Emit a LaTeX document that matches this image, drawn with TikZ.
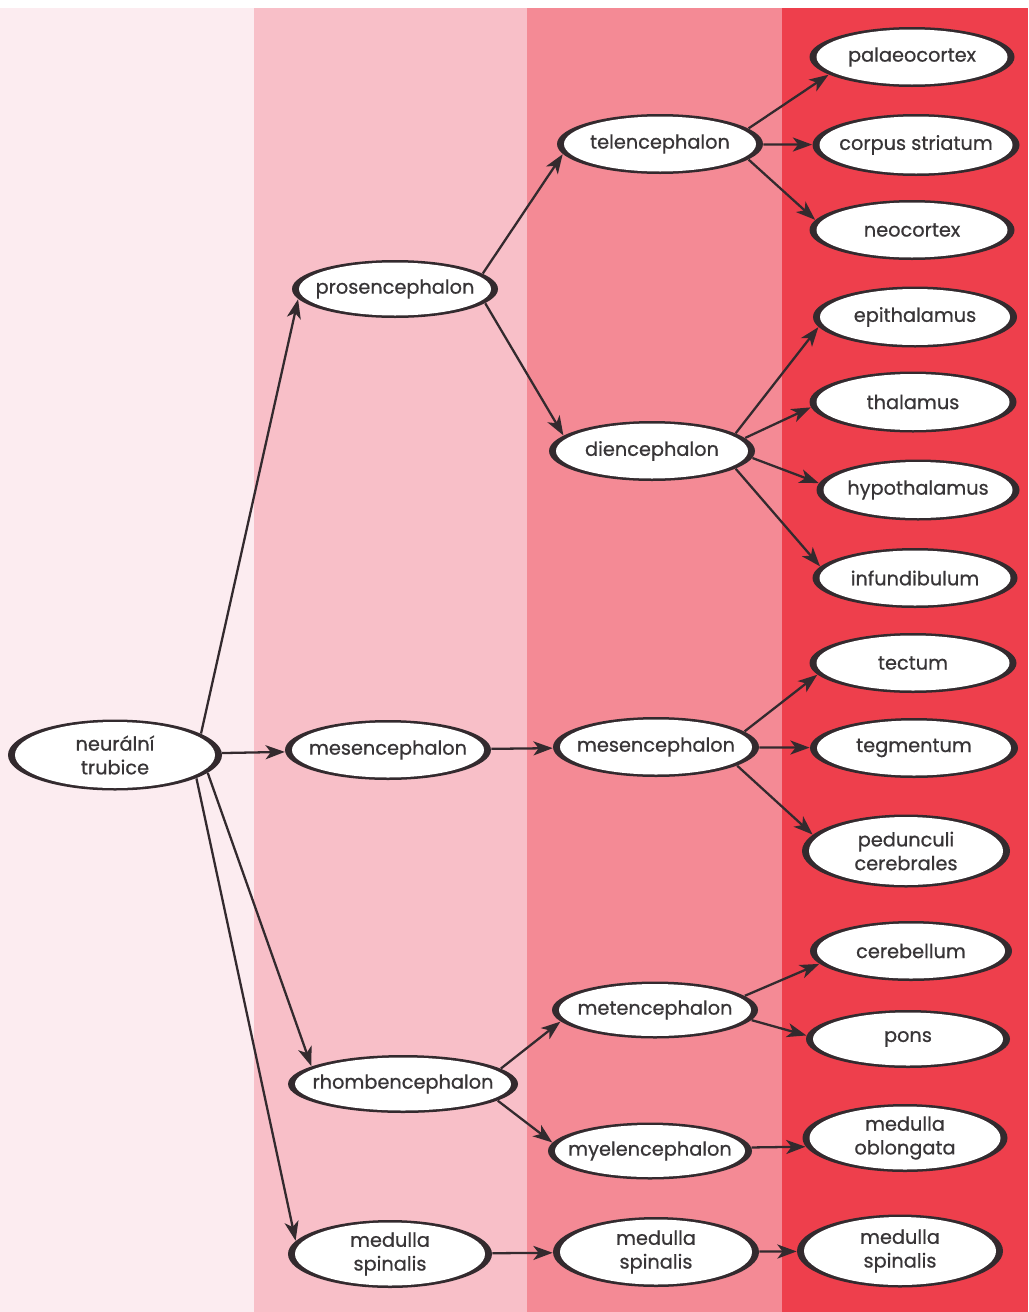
\documentclass[tikz,border=0pt]{standalone}
\usepackage{fontspec}
\setmainfont{Poppins}
\newfontfamily\labelfont[FakeBold=0.7]{Poppins}
\usetikzlibrary{shapes.geometric,arrows.meta}

\definecolor{paleA}{HTML}{FCECF0}
\definecolor{paleB}{HTML}{F8BFC8}
\definecolor{paleC}{HTML}{F48A95}
\definecolor{paleD}{HTML}{EE3F4C}
\definecolor{ink}{HTML}{332A2E}
\definecolor{label}{HTML}{383537}

\tikzset{
  rim/.style={ellipse,fill=ink,inner sep=0pt},
  organ/.style={ellipse,fill=white,inner xsep=-14pt,inner ysep=-4pt,align=center,
    text=label,font=\labelfont\fontsize{11}{13.5}\selectfont},
  link/.style={draw=ink,line width=1.3pt,-{Stealth[length=11pt,width=8pt,inset=3pt]}}
}

% \organ[width]{name}{x,y}{height}{text}, sizes of the dark rim in px
\newcommand\organ[5][206]{
  \node[rim,minimum width=#1*0.02cm,minimum height=#4*0.02cm] (#2) at (#3) {};
  \node[organ,minimum width=(#1-14)*0.02cm,minimum height=(#4-5)*0.02cm] (#2-in) at (#3) {#5};
}

\begin{document}
\begin{tikzpicture}[x=0.02cm,y=-0.02cm]
  \fill[white] (0,0) rectangle (1028,1312);
  \useasboundingbox (0,0) rectangle (1028,1312);

  % the four stages as coloured bands
  \foreach \a/\b/\c in {0/254/paleA,254/527/paleB,527/782/paleC,782/1028/paleD}
    \fill[\c] (\a,8) rectangle (\b,1312);

  % stage 1 and 2
  \organ[214]{tube}{115,755}{71}{neurální\\trubice}
  \organ{prosen}{395,289}{58}{prosencephalon}
  \organ{mesen}{388,750}{60}{mesencephalon}
  \organ[230]{rhomben}{403,1084}{58}{rhombencephalon}
  \organ[204]{spinalB}{390,1254}{68}{medulla\\spinalis}

  % stage 3
  \organ{telen}{660,144}{60}{telencephalon}
  \organ{dien}{652,451}{60}{diencephalon}
  \organ{mesenC}{656,747}{60}{mesencephalon}
  \organ{meten}{655,1010}{57}{metencephalon}
  \organ[204]{myelen}{650,1151}{57}{myelencephalon}
  \organ{spinalC}{656,1252}{70}{medulla\\spinalis}

  % stage 4
  \organ[205]{palaeo}{912,57}{60}{palaeocortex}
  \organ[207]{striatum}{916,145}{62}{corpus striatum}
  \organ[205]{neo}{912,230}{60}{neocortex}
  \organ[204]{epi}{915,317}{61}{epithalamus}
  \organ[207]{thal}{913,402}{61}{thalamus}
  \organ[203]{hypo}{918,490}{61}{hypothalamus}
  \organ[205]{infund}{915,578}{60}{infundibulum}
  \organ[207]{tectum}{913,663}{60}{tectum}
  \organ[208]{tegm}{914,748}{60}{tegmentum}
  \organ[208]{pedunc}{906,851}{73}{pedunculi\\cerebrales}
  \organ[202]{cereb}{911,951}{60}{cerebellum}
  \organ[204]{pons}{908,1039}{58}{pons}
  \organ[205]{oblong}{905,1138}{68}{medulla\\oblongata}
  \organ[206]{spinalD}{900,1251}{73}{medulla\\spinalis}

  % arrows
  \draw[link] (tube.14) -- (prosen.186);
  \draw[link] (tube) -- (mesen);
  \draw[link] (tube.-11) -- (rhomben.169);
  \draw[link] (tube.-16) -- (spinalB.172);

  \draw[link] (prosen.10) -- (telen.186);
  \draw[link] (prosen.-9) -- (dien.170);
  \draw[link] (mesen) -- (mesenC);
  \draw[link] (rhomben.9) -- (meten.187);
  \draw[link] (rhomben.-10) -- (myelen.175);
  \draw[link] (spinalB) -- (spinalC);

  \draw[link] (telen.10) -- (palaeo.192);
  \draw[link] (telen) -- (striatum);
  \draw[link] (telen.-10) -- (neo.174);
  \draw[link] (dien.12) -- (epi.186);
  \draw[link] (dien.8) -- (thal.183);
  \draw[link] (dien.-4) -- (hypo.176);
  \draw[link] (dien.-12) -- (infund.173);
  \draw[link] (mesenC.10) -- (tectum.187);
  \draw[link] (mesenC) -- (tegm);
  \draw[link] (mesenC.-13) -- (pedunc.170);
  \draw[link] (meten.9) -- (cereb.188);
  \draw[link] (meten.-6) -- (pons.178);
  \draw[link] (myelen.2) -- (oblong.185);
  \draw[link] (spinalC) -- (spinalD);
\end{tikzpicture}
\end{document}
